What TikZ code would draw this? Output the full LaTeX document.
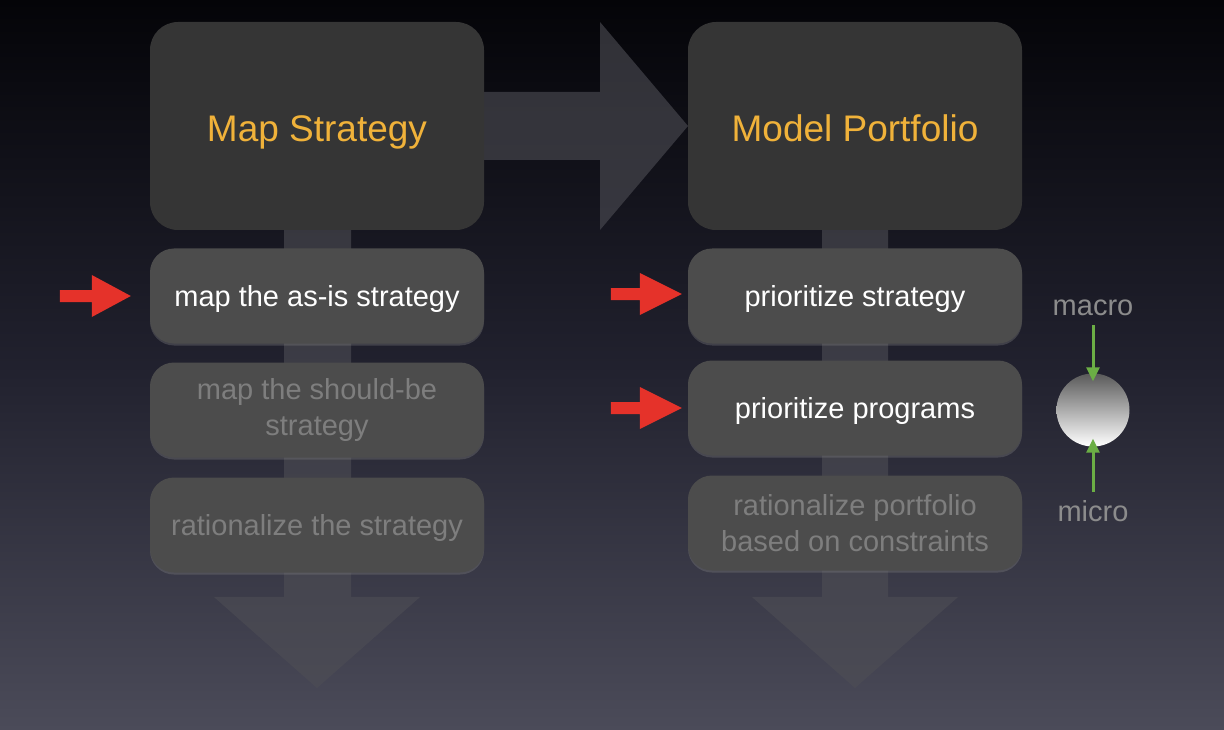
\documentclass[tikz,border=0pt]{standalone}
\usepackage{fontspec}
\setmainfont{Liberation Sans}
\usetikzlibrary{shadows,arrows.meta}
\definecolor{bgtop}{HTML}{040408}
\definecolor{bgmid}{HTML}{21212E}
\definecolor{bgbottom}{HTML}{4B4B59}
\definecolor{headfill}{HTML}{353535}
\definecolor{headtext}{HTML}{F0B23A}
\definecolor{stepfill}{HTML}{4C4C4C}
\definecolor{dimtext}{HTML}{7E7E7E}
\definecolor{flowfill}{HTML}{4E4E55}
\definecolor{pointred}{HTML}{E5322A}
\definecolor{squeezegreen}{HTML}{6BAE45}
\definecolor{labelgrey}{HTML}{8C8C8C}
\definecolor{balltop}{HTML}{5A5A5A}

\begin{document}
\begin{tikzpicture}[x=1pt,y=-1pt,
  bigbox/.style={rectangle, rounded corners=28pt, fill=headfill, minimum width=334pt, minimum height=208pt, text=headtext, text height=40pt, text depth=8pt, font=\fontsize{37}{42}\selectfont},
  stepbox/.style={rectangle, rounded corners=24pt, fill=stepfill, minimum width=334pt, minimum height=95pt, text=white, align=center, font=\fontsize{29}{36}\selectfont, drop shadow={shadow xshift=0pt, shadow yshift=-2pt, opacity=0.35}},
  oneline/.style={text height=28pt, text depth=6.5pt},
  dimbox/.style={stepbox, text=dimtext},
  flow/.style={fill=flowfill, fill opacity=0.6},
  pointer/.style={fill=pointred},
  squeeze/.style={draw=squeezegreen, line width=3pt, -{Triangle[width=13pt,length=14pt]}},
  scalelabel/.style={text=labelgrey, anchor=base, font=\fontsize{29}{32}\selectfont}]

% background
\fill[top color=bgtop, bottom color=bgbottom, middle color=bgmid] (0,0) rectangle (1224,730);

% flow arrows behind the boxes
\fill[flow] (484,92) -- (600,92) -- (600,22) -- (688,126) -- (600,230) -- (600,160) -- (484,160) -- cycle;
\fill[flow] (284,230) -- (351,230) -- (351,597) -- (420,597) -- (317,688) -- (214,597) -- (284,597) -- cycle;
\fill[flow] (822,230) -- (888,230) -- (888,597) -- (958,597) -- (855,688) -- (752,597) -- (822,597) -- cycle;

% left column
\node[bigbox] (map) at (317,126) {Map Strategy};
\node[stepbox, oneline] (asis) at (317,296) {map the as-is strategy};
\node[dimbox] (shouldbe) at (317,410) {map the should-be\\strategy};
\node[dimbox, oneline] (ratstrat) at (317,525) {rationalize the strategy};

% right column
\node[bigbox] (model) at (855,126) {Model Portfolio};
\node[stepbox, oneline] (prstrat) at (855,296) {prioritize strategy};
\node[stepbox, oneline] (prprog) at (855,408) {prioritize programs};
\node[dimbox] (ratport) at (855,523) {rationalize portfolio\\based on constraints};

% red pointers
\fill[pointer] ([xshift=-19pt]asis.west) -- ++(-39,-21) -- ++(0,15) -- ++(-32,0) -- ++(0,12) -- ++(32,0) -- ++(0,15) -- cycle;
\fill[pointer] ([xshift=-6pt,yshift=2pt]prstrat.west) -- ++(-42,-21) -- ++(0,15) -- ++(-29,0) -- ++(0,12) -- ++(29,0) -- ++(0,15) -- cycle;
\fill[pointer] ([xshift=-6pt]prprog.west) -- ++(-42,-21) -- ++(0,15) -- ++(-29,0) -- ++(0,12) -- ++(29,0) -- ++(0,15) -- cycle;

% macro / micro
\node[circle, minimum size=73pt, inner sep=0pt, top color=balltop, bottom color=white] (ball) at (1093,410) {};
\node[scalelabel] (macro) at (1093,315) {macro};
\node[scalelabel] (micro) at (1093,521) {micro};
\draw[squeeze] ([yshift=-10pt]macro.base) -- ([yshift=-8pt]ball.north);
\draw[squeeze] ([yshift=29pt]micro.base) -- ([yshift=8pt]ball.south);
\end{tikzpicture}
\end{document}
